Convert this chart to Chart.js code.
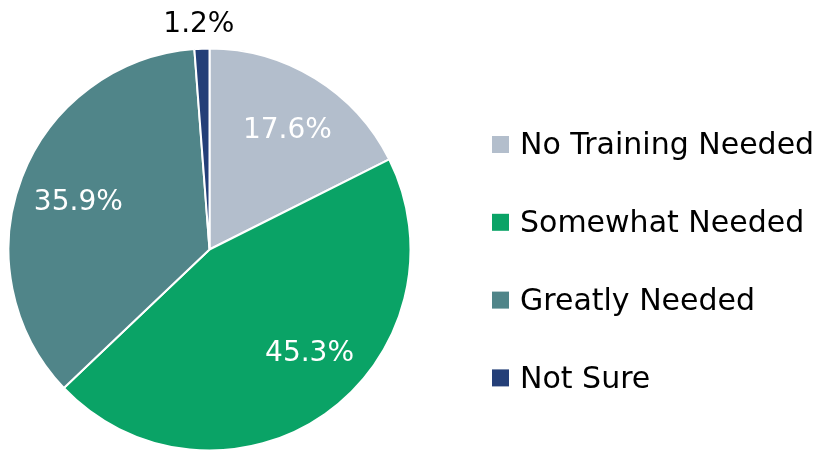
<!DOCTYPE html>
<html>
<head>
<meta charset="utf-8">
<script src="https://cdn.jsdelivr.net/npm/chart.js@4.4.1/dist/chart.umd.min.js"></script>
<style>
  html, body { margin: 0; padding: 0; background: #ffffff; }
  #wrap { width: 820px; height: 451px; position: relative; }
</style>
</head>
<body>
<div id="wrap"><canvas id="c"></canvas></div>
<script>
// ---- data ----
const categories = ["No Training Needed", "Somewhat Needed", "Greatly Needed", "Not Sure"];
const values = [17.6, 45.3, 35.9, 1.2];
const valueLabels = ["17.6%", "45.3%", "35.9%", "1.2%"];

// ---- styles ----
const colors = ["#B3BECC", "#0AA366", "#508589", "#243F78"];
const labelColors = ["#ffffff", "#ffffff", "#ffffff", "#000000"];
const labelRadiusFrac = [0.71, 0.71, 0.71, 1.135];
const labelNudge = [[3, 0], [18, -15], [2, 2], [-2, 0]];
const FONT = "'DejaVu Sans', Verdana, sans-serif";
const LABEL_SIZE = 28;
const LEGEND_SIZE = 30;

const labelPlugin = {
  id: 'sliceLabels',
  afterDatasetsDraw(chart) {
    const ctx = chart.ctx;
    const meta = chart.getDatasetMeta(0);
    ctx.save();
    ctx.font = LABEL_SIZE + "px " + FONT;
    ctx.textAlign = 'center';
    ctx.textBaseline = 'alphabetic';
    meta.data.forEach((arc, i) => {
      const p = arc.getProps(['x', 'y', 'startAngle', 'endAngle', 'outerRadius'], true);
      const mid = (p.startAngle + p.endAngle) / 2;
      const r = p.outerRadius * labelRadiusFrac[i];
      const x = p.x + Math.cos(mid) * r + labelNudge[i][0];
      const y = p.y + Math.sin(mid) * r + labelNudge[i][1];
      ctx.fillStyle = labelColors[i];
      ctx.fillText(valueLabels[i], x, y + LABEL_SIZE * 0.729 / 2);
    });
    ctx.restore();
  }
};

const legendPlugin = {
  id: 'sideLegend',
  afterDraw(chart) {
    const ctx = chart.ctx;
    ctx.save();
    ctx.font = LEGEND_SIZE + "px " + FONT;
    ctx.textAlign = 'left';
    ctx.textBaseline = 'alphabetic';
    const x0 = 492, box = 17, textX = 520, y0 = 143.5, step = 77.8;
    categories.forEach((c, i) => {
      const cy = y0 + i * step;
      ctx.fillStyle = colors[i];
      ctx.fillRect(x0, cy - box / 2 + 1, box, box);
      ctx.fillStyle = '#000000';
      ctx.fillText(c, textX, cy + LEGEND_SIZE * 0.729 / 2);
    });
    ctx.restore();
  }
};

new Chart(document.getElementById('c'), {
  type: 'pie',
  data: {
    labels: categories,
    datasets: [{
      data: values,
      backgroundColor: colors,
      borderColor: '#ffffff',
      borderWidth: 2
    }]
  },
  options: {
    responsive: true,
    maintainAspectRatio: false,
    animation: false,
    radius: 201,
    layout: { padding: { left: 9, right: 410, top: 49, bottom: 1 } },
    plugins: {
      legend: { display: false },
      tooltip: { enabled: false }
    }
  },
  plugins: [labelPlugin, legendPlugin]
});
</script>
</body>
</html>
